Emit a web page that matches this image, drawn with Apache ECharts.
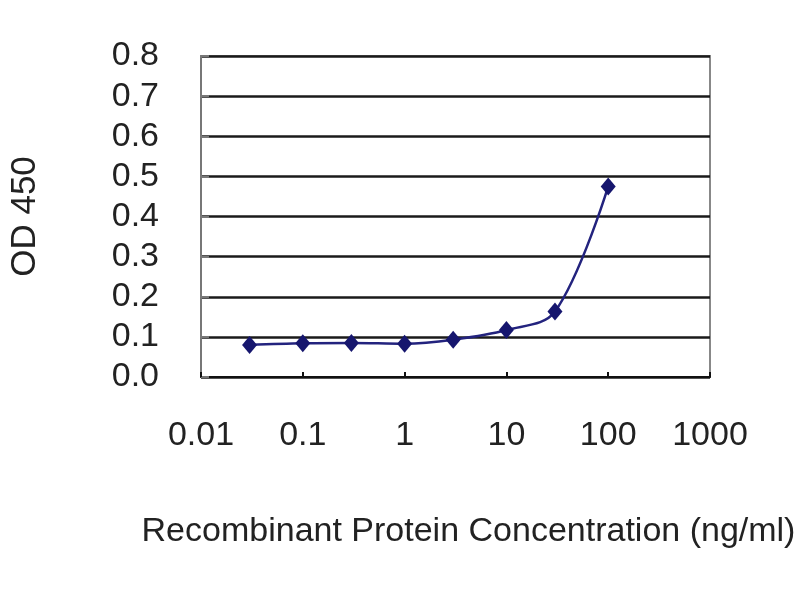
<!DOCTYPE html>
<html>
<head>
<meta charset="utf-8">
<script src="https://cdn.jsdelivr.net/npm/echarts@6/dist/echarts.min.js"></script>
<style>html,body{margin:0;padding:0;background:#fff;}#c{width:800px;height:600px;}</style>
</head>
<body>
<div id="c"></div>
<script>
const concentrations = [0.03, 0.1, 0.3, 1, 3, 10, 30, 100];
const od450 = [0.08, 0.084, 0.085, 0.083, 0.093, 0.117, 0.163, 0.475];
const xTickLabels = ['0.01', '0.1', '1', '10', '100', '1000'];
const yTickLabels = ['0.0', '0.1', '0.2', '0.3', '0.4', '0.5', '0.6', '0.7', '0.8'];

const chart = echarts.init(document.getElementById('c'));
const font = 'Liberation Sans, Arial, sans-serif';
const points = concentrations.map((c, i) => [c, od450[i]]);
chart.setOption({
  animation: false,
  backgroundColor: '#fff',
  grid: { left: 198, right: 90, top: 56, bottom: 223, show: true, borderColor: '#888', borderWidth: 2, backgroundColor: '#fff' },
  xAxis: {
    type: 'log', logBase: 10, min: 0.01, max: 1000,
    name: 'Recombinant Protein Concentration (ng/ml)',
    nameLocation: 'middle', nameGap: 138,
    nameTextStyle: { fontFamily: font, fontSize: 34, color: '#222', padding: [0, 0, 0, 26] },
    axisLine: { lineStyle: { color: '#111', width: 2 } },
    axisTick: { inside: true, length: 5, lineStyle: { color: '#111', width: 2 } },
    minorTick: { show: false },
    splitLine: { show: false },
    axisLabel: {
      fontFamily: font, fontSize: 34, color: '#222', margin: 42,
      formatter: v => { const e = Math.round(Math.log10(v)); return xTickLabels[e + 2]; }
    }
  },
  yAxis: {
    type: 'value', min: 0, max: 0.8, interval: 0.1,
    name: 'OD 450', nameLocation: 'middle', nameGap: 158, nameRotate: 90,
    nameTextStyle: { fontFamily: font, fontSize: 35, color: '#222' },
    axisLine: { show: true, lineStyle: { color: '#777', width: 2 } },
    axisTick: { show: true, inside: true, length: 8, lineStyle: { color: '#777', width: 2 } },
    splitLine: { show: true, lineStyle: { color: '#1a1a1a', width: 2.5 } },
    axisLabel: {
      fontFamily: font, fontSize: 34, color: '#222', margin: 42,
      formatter: v => yTickLabels[Math.round(v * 10)]
    }
  },
  series: [{
    type: 'line', data: points, smooth: 0.35,
    symbol: 'diamond', symbolSize: [15, 18],
    lineStyle: { color: '#23237e', width: 2.5 },
    itemStyle: { color: '#16166e' }
  }]
});
</script>
</body>
</html>
